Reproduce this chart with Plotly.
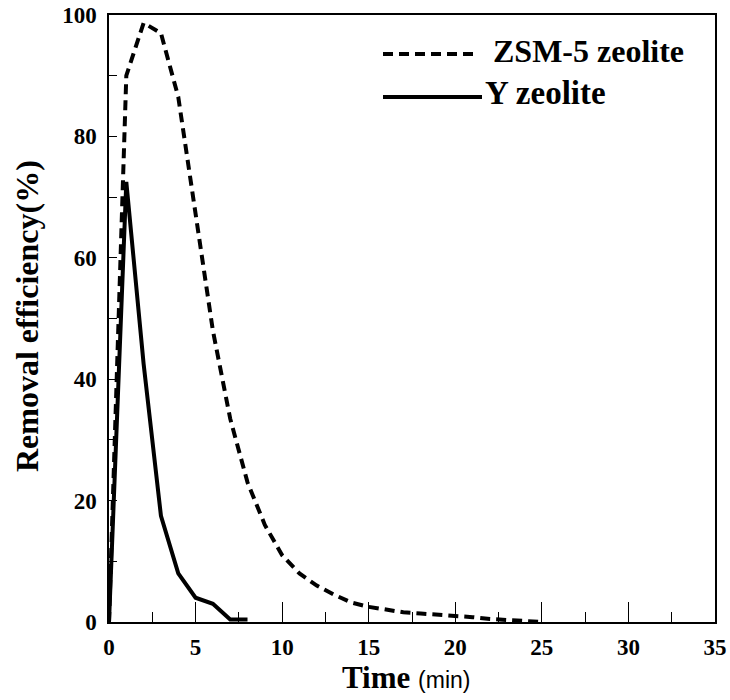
import plotly.graph_objects as go

# ---- data ----
zsm5_time = [0, 1, 2, 3, 4, 5, 6, 7, 8, 9, 10, 11, 12, 13, 14, 15, 16, 17, 18, 19, 20, 21, 22, 23, 24, 25]
zsm5_eff = [0, 90, 98.7, 97, 86.5, 67, 48, 33.5, 23, 16, 11, 8, 6, 4.5, 3.2, 2.5, 2.0, 1.6, 1.4, 1.2, 1.1, 0.8, 0.5, 0.3, 0.1, 0]

y_time = [0, 1, 2, 3, 4, 5, 6, 7, 8]
y_eff = [0, 72.5, 42.5, 17.5, 8, 4, 3, 0.4, 0.4]

series_names = ["ZSM-5 zeolite", "Y zeolite"]
x_ticks = [0, 5, 10, 15, 20, 25, 30, 35]
y_ticks = [0, 20, 40, 60, 80, 100]

SERIF = "Liberation Serif, Times New Roman, serif"
SANS = "Liberation Sans, Arial, sans-serif"

fig = go.Figure()
fig.add_trace(go.Scatter(x=zsm5_time, y=zsm5_eff, mode="lines", name=series_names[0],
                         line=dict(color="black", width=4, dash="10px,6px"), showlegend=False))
fig.add_trace(go.Scatter(x=y_time, y=y_eff, mode="lines", name=series_names[1],
                         line=dict(color="black", width=4), showlegend=False))

# plot area in pixels: left 109, right 715, top 15, bottom 622
L, R, T, B = 109, 715, 15, 622
def px_x(p):
    return (p - L) / (R - L)
def px_y(p):
    return (B - p) / (B - T)

# custom legend (long line samples like the reference)
fig.add_shape(type="line", xref="paper", yref="paper",
              x0=px_x(383), x1=px_x(477), y0=px_y(54), y1=px_y(54),
              line=dict(color="black", width=4, dash="10px,6px"))
fig.add_shape(type="line", xref="paper", yref="paper",
              x0=px_x(383), x1=px_x(482), y0=px_y(97), y1=px_y(97),
              line=dict(color="black", width=4))
fig.add_annotation(text="<b>" + series_names[0] + "</b>", xref="paper", yref="paper",
                   x=px_x(491), y=px_y(51), xanchor="left", yanchor="middle", showarrow=False,
                   font=dict(family=SERIF, size=32, color="black"))
fig.add_annotation(text="<b>" + series_names[1] + "</b>", xref="paper", yref="paper",
                   x=px_x(483), y=px_y(93), xanchor="left", yanchor="middle", showarrow=False,
                   font=dict(family=SERIF, size=33, color="black"))

# axis titles
fig.add_annotation(text="<b>Removal efficiency(%)</b>", xref="paper", yref="paper",
                   x=px_x(27), y=px_y(316), xanchor="center", yanchor="middle", textangle=-90,
                   showarrow=False, font=dict(family=SERIF, size=32, color="black"))
fig.add_annotation(text="<b>Time</b> <span style='font-family:Liberation Sans, Arial, sans-serif;font-size:23px;'>(min)</span>",
                   xref="paper", yref="paper",
                   x=px_x(406), y=px_y(677), xanchor="center", yanchor="middle",
                   showarrow=False, font=dict(family=SERIF, size=31, color="black"))

fig.update_xaxes(range=[0, 35], tickvals=x_ticks, ticktext=[str(v) for v in x_ticks],
                 ticks="inside", ticklen=20, tickwidth=1, tickcolor="black",
                 minor=dict(dtick=2.5, tick0=0, ticks="inside", ticklen=10, tickwidth=1, tickcolor="black"),
                 showline=True, linecolor="black", linewidth=1.5, mirror=True,
                 showgrid=False, zeroline=False, automargin=False,
                 tickfont=dict(family=SERIF, size=23, color="black", weight="bold"),
                 ticklabelstandoff=4)
fig.update_yaxes(range=[0, 100], tickvals=y_ticks, ticktext=[str(v) for v in y_ticks],
                 ticks="inside", ticklen=8, tickwidth=1, tickcolor="black",
                 minor=dict(dtick=10, tick0=0, ticks="inside", ticklen=8, tickwidth=1, tickcolor="black"),
                 showline=True, linecolor="black", linewidth=1.5, mirror=True,
                 showgrid=False, zeroline=False, automargin=False,
                 tickfont=dict(family=SERIF, size=23, color="black", weight="bold"),
                 ticklabelstandoff=6)

fig.update_layout(width=730, height=700, autosize=False,
                  margin=dict(l=L, r=730 - R, t=T, b=700 - B, pad=0, autoexpand=False),
                  plot_bgcolor="white", paper_bgcolor="white", showlegend=False)

fig.write_html("out.html")
